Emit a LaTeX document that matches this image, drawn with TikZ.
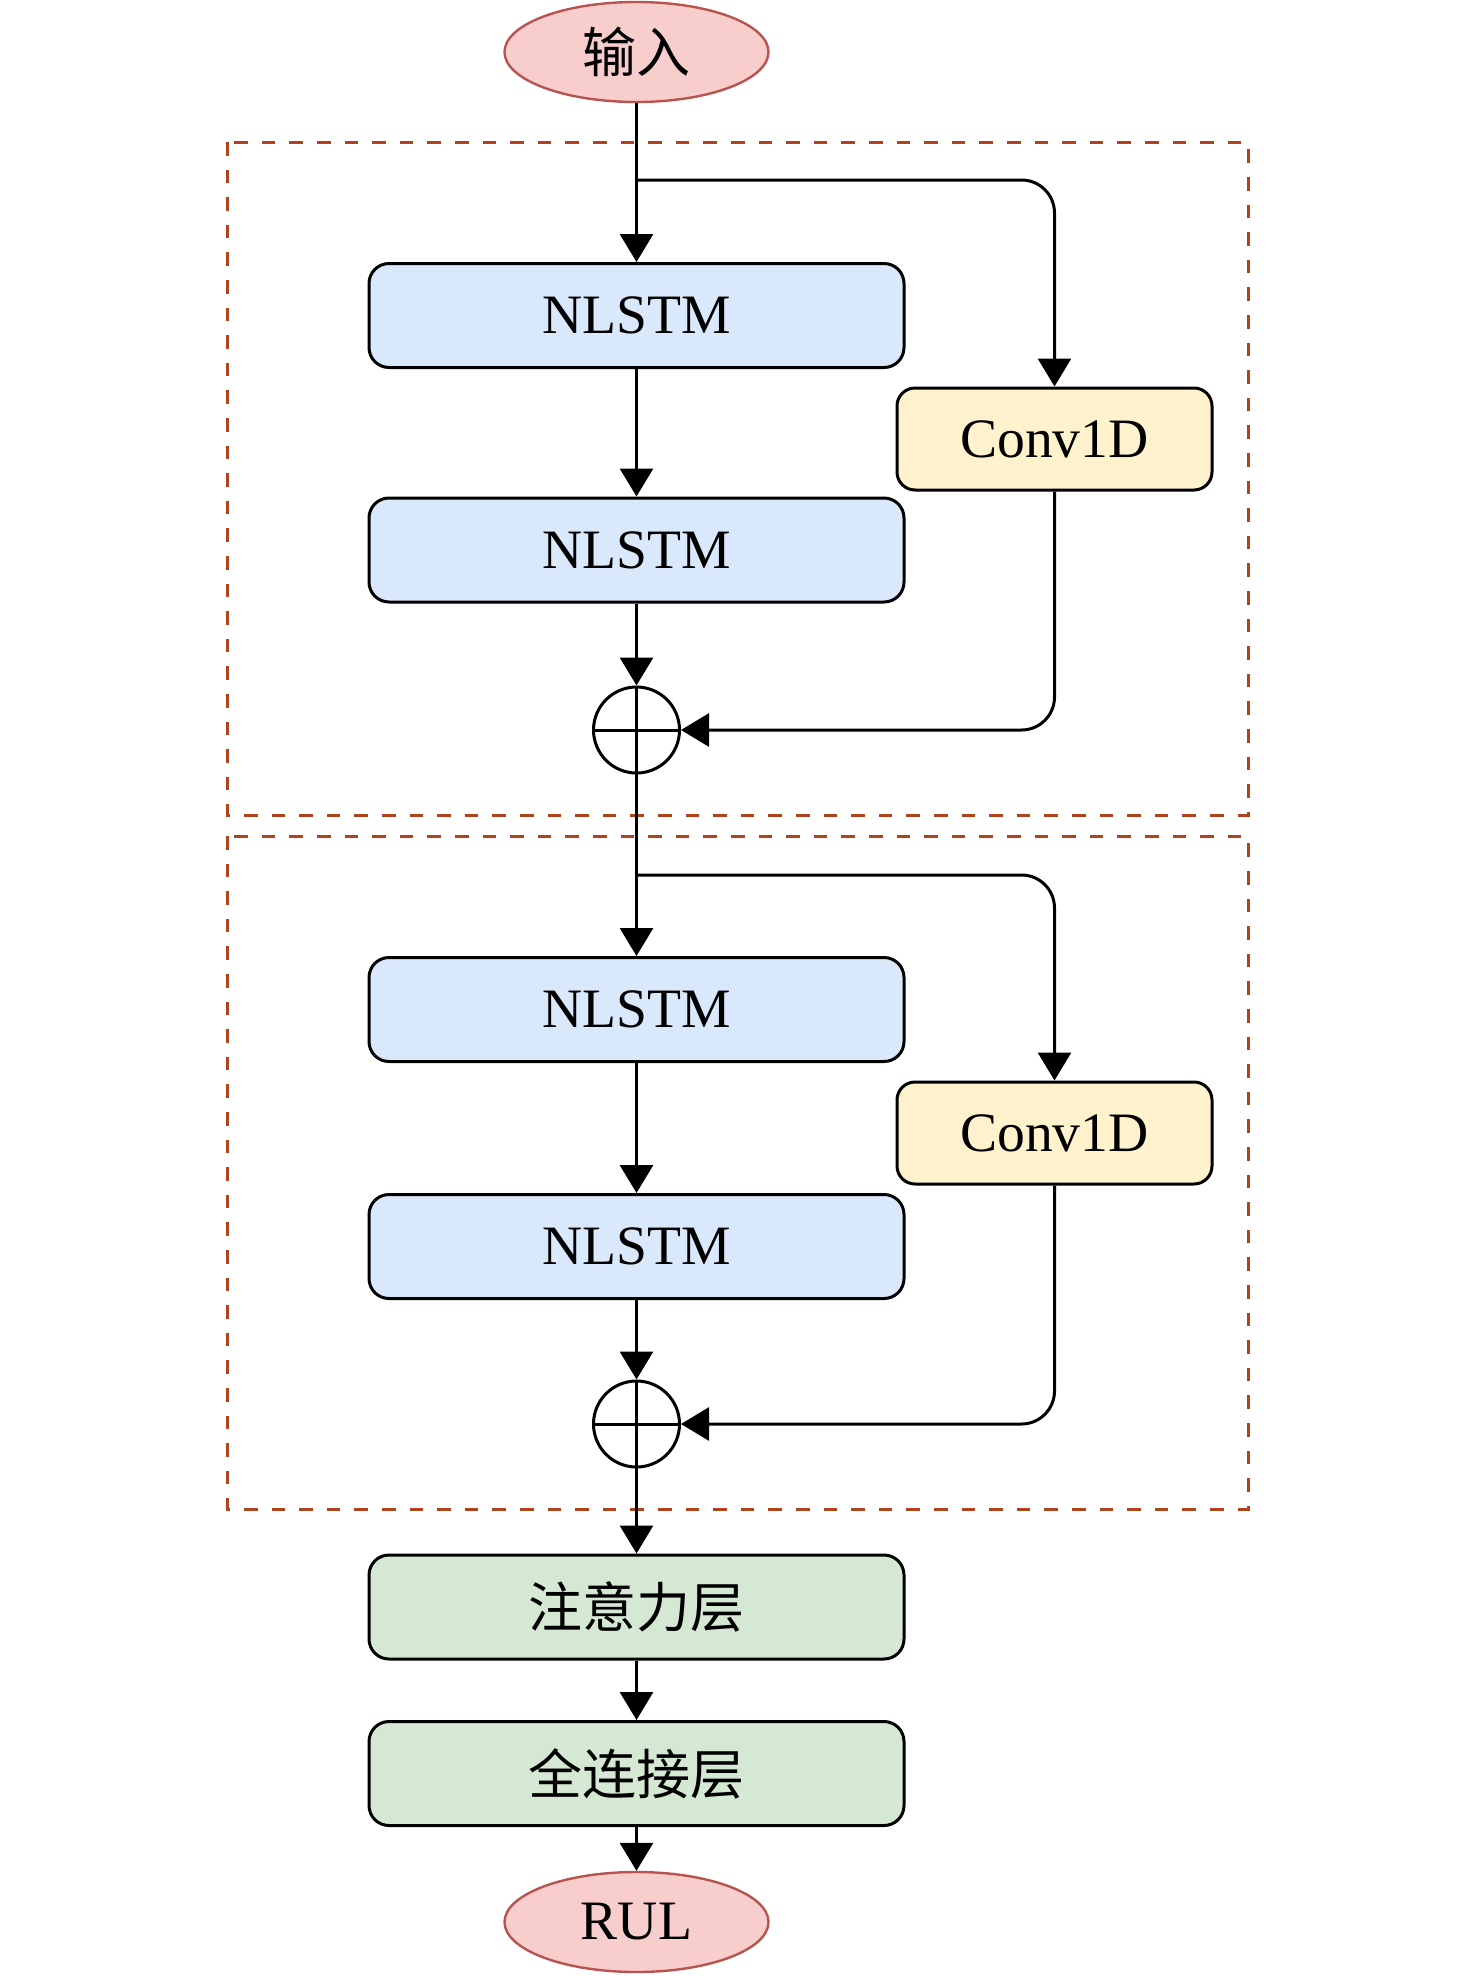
\documentclass[tikz,border=0pt]{standalone}
\usepackage{fontspec}
\setmainfont{Liberation Serif}
\newfontfamily\cjk{Noto Sans CJK SC}
\usetikzlibrary{arrows.meta,shapes.geometric}
\definecolor{redfill}{HTML}{F8CECC}
\definecolor{redline}{HTML}{B85450}
\definecolor{bluefill}{HTML}{DAE8FC}
\definecolor{yellowfill}{HTML}{FFF2CC}
\definecolor{greenfill}{HTML}{D5E8D4}
\definecolor{dashcol}{HTML}{B1431C}
\begin{document}
\begin{tikzpicture}[x=0.5pt,y=-0.5pt,
  latin/.style={font=\fontsize{27.8pt}{32pt}\selectfont},
  chin/.style={font=\cjk\fontsize{27pt}{31pt}\selectfont},
  term/.style={ellipse,draw=redline,fill=redfill,line width=1.2pt,minimum width=132pt,minimum height=50pt,inner sep=0pt},
  layer/.style={rectangle,rounded corners=10pt,draw=black,line width=1.5pt,minimum width=267.5pt,minimum height=52pt,inner sep=0pt},
  nlstm/.style={layer,fill=bluefill,latin},
  greenbox/.style={layer,fill=greenfill,chin},
  convbox/.style={rectangle,rounded corners=9pt,draw=black,line width=1.5pt,fill=yellowfill,minimum width=157.5pt,minimum height=51pt,inner sep=0pt,latin},
  addnode/.style={circle,draw=black,line width=1.5pt,minimum size=43pt,inner sep=0pt},
  conn/.style={line width=1.5pt,-{Triangle[width=16.5pt,length=14pt]}},
  plain/.style={line width=1.5pt},
  dashbox/.style={draw=dashcol,line width=1.5pt,dash pattern=on 6.8pt off 7pt}
]
\useasboundingbox (0,0) rectangle (1476,1976);

% dashed groups
\draw[dashbox] (227,142) rectangle (1248,815);
\draw[dashbox] (227,836) rectangle (1248,1509);

% nodes
\node[term,chin] (in) at (636.5,52) {输入};
\node[nlstm] (n1) at (636.5,315.5) {NLSTM};
\node[convbox] (c1) at (1054.5,439) {Conv1D};
\node[nlstm] (n2) at (636.5,550) {NLSTM};
\node[addnode] (p1) at (636.5,730) {};
\coordinate (b1) at (636.5,180);

\node[nlstm] (n3) at (636.5,1009.5) {NLSTM};
\node[convbox] (c2) at (1054.5,1133) {Conv1D};
\node[nlstm] (n4) at (636.5,1246.5) {NLSTM};
\node[addnode] (p2) at (636.5,1424) {};
\coordinate (b2) at (636.5,875);

\node[greenbox] (att) at (636.5,1607) {注意力层};
\node[greenbox] (fc) at (636.5,1773.5) {全连接层};
\node[term,latin] (rul) at (636.5,1922) {RUL};

% plus signs
\draw[plain] (p1.north) -- (p1.south);
\draw[plain] (p1.west) -- (p1.east);
\draw[plain] (p2.north) -- (p2.south);
\draw[plain] (p2.west) -- (p2.east);

% main chain
\draw[conn] (in) -- (n1);
\draw[conn] (n1) -- (n2);
\draw[conn] (n2) -- (p1);
\draw[conn] (p1) -- (n3);
\draw[conn] (n3) -- (n4);
\draw[conn] (n4) -- (p2);
\draw[conn] (p2) -- (att);
\draw[conn] (att) -- (fc);
\draw[conn] (fc) -- (rul);

% residual branches
\draw[conn,rounded corners=16.5pt] (b1) -| (c1);
\draw[conn,rounded corners=16.5pt] (c1) |- (p1);
\draw[conn,rounded corners=16.5pt] (b2) -| (c2);
\draw[conn,rounded corners=16.5pt] (c2) |- (p2);
\end{tikzpicture}
\end{document}
